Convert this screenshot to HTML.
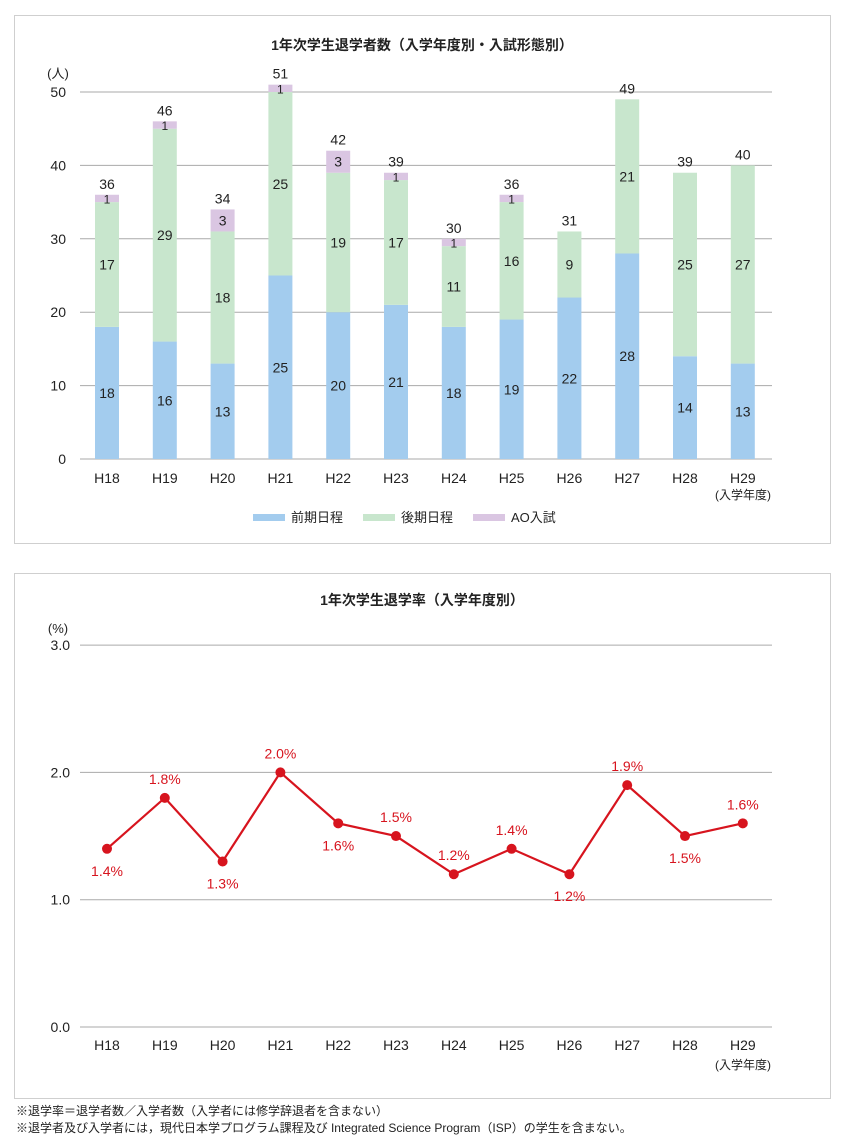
<!DOCTYPE html>
<html><head><meta charset="utf-8"><style>
body{margin:0;background:#fff;width:860px;height:1142px;overflow:hidden}
svg text{font-family:"Liberation Sans","Noto Sans CJK JP",sans-serif}
</style></head><body>
<svg id="s" width="860" height="1142" xmlns="http://www.w3.org/2000/svg">
<rect x="14.5" y="15.5" width="816" height="528" fill="#fff" stroke="#cfcfcf"/>
<rect x="14.5" y="573.5" width="816" height="525" fill="#fff" stroke="#cfcfcf"/>
<text x="422" y="50" font-size="14" font-weight="bold" text-anchor="middle" fill="#222">1年次学生退学者数（入学年度別・入試形態別）</text>
<text x="422" y="605" font-size="14" font-weight="bold" text-anchor="middle" fill="#222">1年次学生退学率（入学年度別）</text>
<text x="58" y="78" font-size="13" text-anchor="middle" fill="#222">(人)</text>
<text x="58" y="633" font-size="13" text-anchor="middle" fill="#222">(%)</text>
<text x="16" y="1115" font-size="12" fill="#222">※退学率＝退学者数／入学者数（入学者には修学辞退者を含まない）</text>
<text x="16" y="1132" font-size="12" fill="#222">※退学者及び入学者には，現代日本学プログラム課程及び Integrated Science Program（ISP）の学生を含まない。</text>
<g id="g"></g>
</svg>
<script>
var g=document.getElementById('g'),h='';
var xs=[],names=['H18','H19','H20','H21','H22','H23','H24','H25','H26','H27','H28','H29'];
for(var i=0;i<12;i++)xs.push(107+i*57.8);
var a=[18,16,13,25,20,21,18,19,22,28,14,13],b=[17,29,18,25,19,17,11,16,9,21,25,27],c=[1,1,3,1,3,1,1,1,0,0,0,0];
function Y(v){return 459-v*7.34}
for(var v=0;v<=50;v+=10){h+='<line x1="80" x2="772" y1="'+Y(v)+'" y2="'+Y(v)+'" stroke="#aaa"/>';h+='<text x="66" y="'+(Y(v)+5)+'" font-size="14" text-anchor="end" fill="#222">'+v+'</text>';}
for(i=0;i<12;i++){var x=xs[i]-12;
h+='<rect x="'+x+'" y="'+Y(a[i])+'" width="24" height="'+(a[i]*7.34)+'" fill="#a3ccee"/>';
h+='<rect x="'+x+'" y="'+Y(a[i]+b[i])+'" width="24" height="'+(b[i]*7.34)+'" fill="#c8e6cd"/>';
if(c[i])h+='<rect x="'+x+'" y="'+Y(a[i]+b[i]+c[i])+'" width="24" height="'+(c[i]*7.34)+'" fill="#dac6e2"/>';
h+='<text x="'+xs[i]+'" y="'+(Y(a[i]/2)+5)+'" font-size="14" text-anchor="middle" fill="#222">'+a[i]+'</text>';
h+='<text x="'+xs[i]+'" y="'+(Y(a[i]+b[i]/2)+5)+'" font-size="14" text-anchor="middle" fill="#222">'+b[i]+'</text>';
if(c[i])h+='<text x="'+xs[i]+'" y="'+(Y(a[i]+b[i]+c[i]/2)+5)+'" font-size="'+(c[i]>1?14:12)+'" text-anchor="middle" fill="#222">'+c[i]+'</text>';
var t=a[i]+b[i]+c[i];
h+='<text x="'+xs[i]+'" y="'+(Y(t)-6)+'" font-size="14" text-anchor="middle" fill="#222">'+t+'</text>';
h+='<text x="'+xs[i]+'" y="483" font-size="14" text-anchor="middle" fill="#222">'+names[i]+'</text>';
h+='<text x="'+xs[i]+'" y="1050" font-size="14" text-anchor="middle" fill="#222">'+names[i]+'</text>';}
h+='<text x="743" y="499" font-size="12" text-anchor="middle" fill="#222">(入学年度)</text>';
h+='<text x="743" y="1069" font-size="12" text-anchor="middle" fill="#222">(入学年度)</text>';
var L=[['#a3ccee','前期日程',253],['#c8e6cd','後期日程',363],['#dac6e2','AO入試',473]];
L.forEach(function(l){h+='<rect x="'+l[2]+'" y="514" width="32" height="7" fill="'+l[0]+'"/><text x="'+(l[2]+38)+'" y="522" font-size="13" fill="#222">'+l[1]+'</text>';});
function Z(v){return 1027-v*127.3}
for(v=0;v<=3;v++){h+='<line x1="80" x2="772" y1="'+Z(v)+'" y2="'+Z(v)+'" stroke="#aaa"/>';h+='<text x="70" y="'+(Z(v)+5)+'" font-size="14" text-anchor="end" fill="#222">'+v.toFixed(1)+'</text>';}
var r=[1.4,1.8,1.3,2.0,1.6,1.5,1.2,1.4,1.2,1.9,1.5,1.6],below=[1,0,1,0,1,0,0,0,1,0,1,0],p='';
for(i=0;i<12;i++)p+=xs[i]+','+Z(r[i])+' ';
h+='<polyline points="'+p+'" fill="none" stroke="#d7141e" stroke-width="2.2"/>';
for(i=0;i<12;i++){h+='<circle cx="'+xs[i]+'" cy="'+Z(r[i])+'" r="5" fill="#d7141e"/>';
h+='<text x="'+xs[i]+'" y="'+(Z(r[i])+(below[i]?27:-14))+'" font-size="14" text-anchor="middle" fill="#d7141e">'+r[i].toFixed(1)+'%</text>';}
g.innerHTML=h;
</script>
</body></html>
